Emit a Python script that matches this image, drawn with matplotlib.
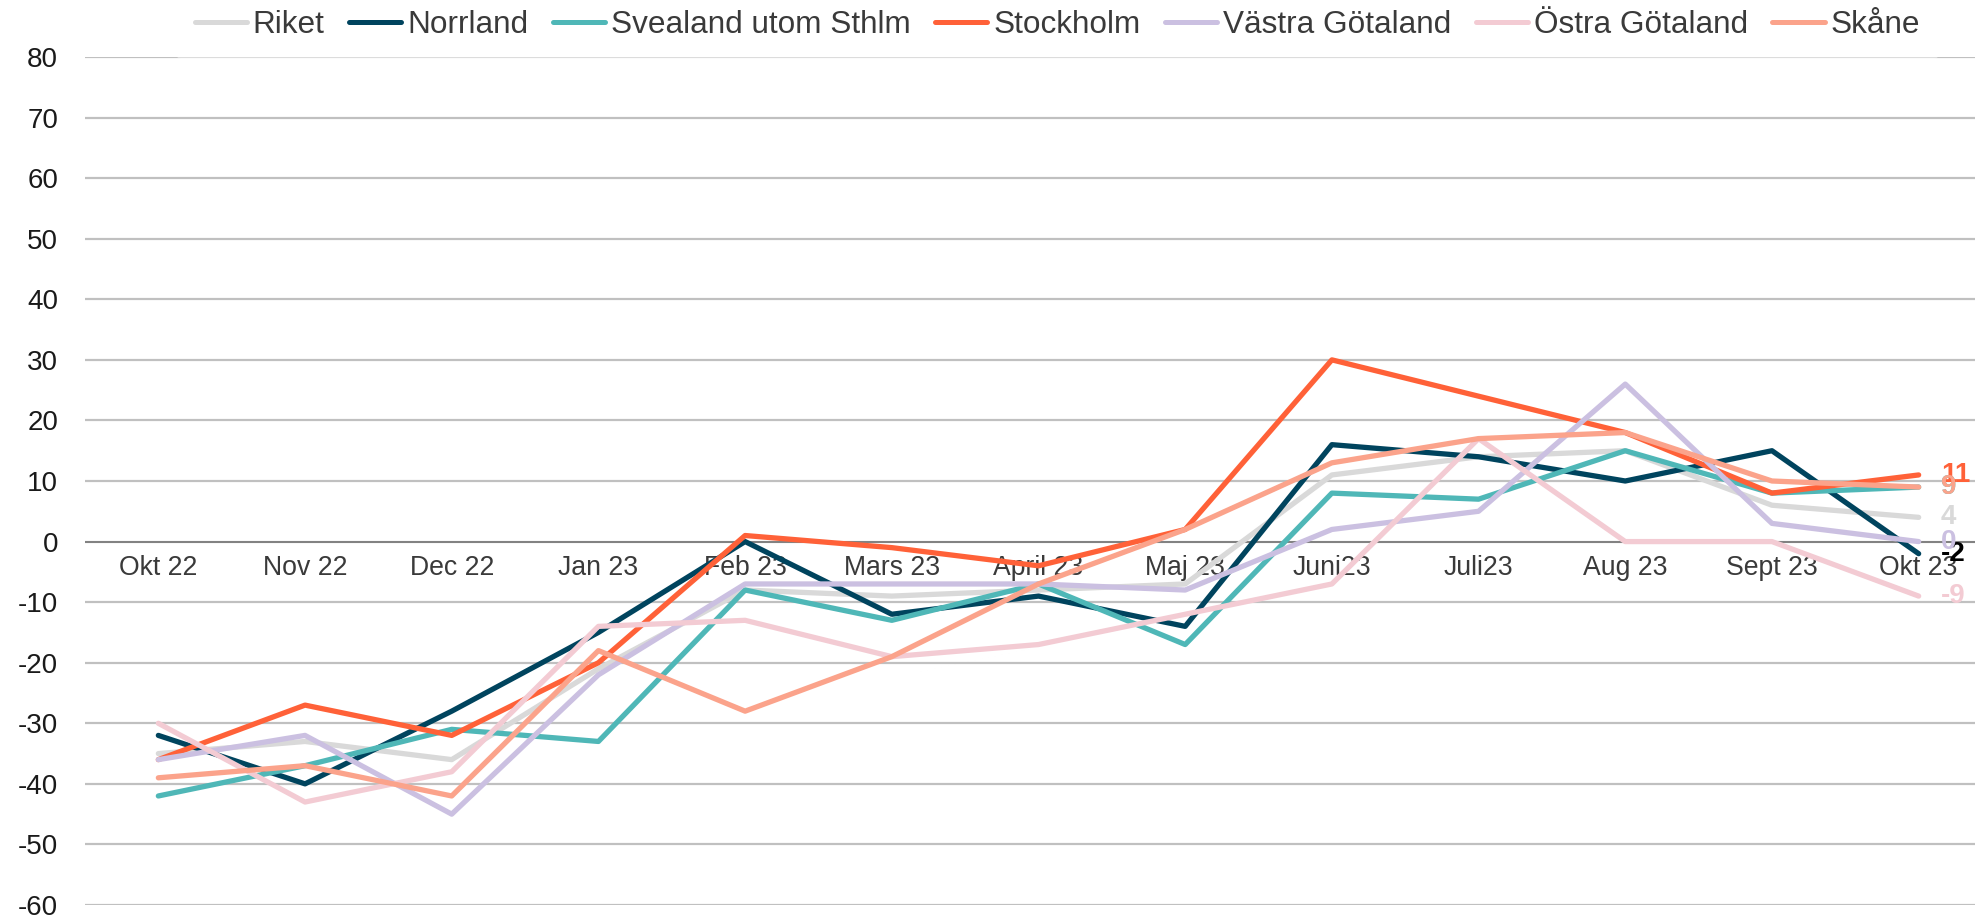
import matplotlib
matplotlib.use("Agg")
import matplotlib.pyplot as plt

plt.rcParams['font.family'] = ['Liberation Sans', 'DejaVu Sans']

months = ["Okt 22", "Nov 22", "Dec 22", "Jan 23", "Feb 23", "Mars 23", "April 23",
          "Maj 23", "Juni23", "Juli23", "Aug 23", "Sept 23", "Okt 23"]

riket = [-35, -33, -36, -21, -8, -9, -8, -7, 11, 14, 15, 6, 4]
norrland = [-32, -40, -28, -15, 0, -12, -9, -14, 16, 14, 10, 15, -2]
svealand = [-42, -37, -31, -33, -8, -13, -7, -17, 8, 7, 15, 8, 9]
stockholm = [-36, -27, -32, -20, 1, -1, -4, 2, 30, 24, 18, 8, 11]
vastra = [-36, -32, -45, -22, -7, -7, -7, -8, 2, 5, 26, 3, 0]
ostra = [-30, -43, -38, -14, -13, -19, -17, -12, -7, 17, 0, 0, -9]
skane = [-39, -37, -42, -18, -28, -19, -7, 2, 13, 17, 18, 10, 9]

series_names = ["Riket", "Norrland", "Svealand utom Sthlm", "Stockholm",
                "Västra Götaland", "Östra Götaland", "Skåne"]
series_values = [riket, norrland, svealand, stockholm, vastra, ostra, skane]
colors = ["#D9D9D9", "#00445E", "#4FB7B7", "#FF6138", "#CBC0E1", "#F3CBD3", "#FBA38B"]
label_colors = ["#D9D9D9", "#000000", "#4FB7B7", "#FF6138", "#CBC0E1", "#F3CBD3", "#FBA38B"]

yticks = list(range(-60, 81, 10))

fig = plt.figure(figsize=(19.75, 9.18), dpi=100)
ax = fig.add_axes([85 / 1975, 13 / 918, (1992 - 85) / 1975, (905 - 57) / 918])

x = list(range(len(months)))
handles = []
for name, vals, c in zip(series_names, series_values, colors):
    h, = ax.plot(x, vals, color=c, lw=3.8, solid_capstyle='round',
                 solid_joinstyle='round', label=name, zorder=3)
    handles.append(h)

ax.set_xlim(-0.5, len(months) - 0.5)
ax.set_ylim(-60, 80)
ax.set_yticks(yticks)
ax.set_yticklabels([str(t) for t in yticks])
ax.yaxis.grid(True, color="#C0C0C0", lw=1.6, zorder=0)
ax.set_axisbelow(True)
ax.axhline(0, color="#767676", lw=1.2, zorder=1)

for s in ["top", "right", "left"]:
    ax.spines[s].set_visible(False)
ax.spines["bottom"].set_position(("data", 0))
ax.spines["bottom"].set_visible(False)

ax.set_xticks(x)
ax.set_xticklabels(months)
ax.tick_params(axis="x", length=0, pad=10, labelsize=19.2, labelcolor="#3A3A3A")
ax.tick_params(axis="y", length=0, pad=19.4, labelsize=20, labelcolor="#1A1A1A")

# end labels
for i in range(len(series_names)):
    v = series_values[i][-1]
    ax.annotate(str(v), xy=(x[-1], v), xytext=(16, 0), textcoords="offset points",
                ha="left", va="center", fontsize=20, fontweight="bold",
                color=label_colors[i], zorder=5, annotation_clip=False)

leg = ax.legend(handles=handles, loc="center", bbox_to_anchor=(0.5354, 0.9728),
                bbox_transform=fig.transFigure, ncol=7, fontsize=22.7,
                handlelength=1.65, handletextpad=0.2, columnspacing=0.77,
                frameon=True, facecolor="white", edgecolor="none", framealpha=0.45,
                borderpad=0.6, borderaxespad=0)
for t in leg.get_texts():
    t.set_color("#3A3A3A")
for lh in leg.get_lines():
    lh.set_linewidth(3.6)
    lh.set_solid_capstyle('round')

fig.savefig("out.png", dpi=100)
